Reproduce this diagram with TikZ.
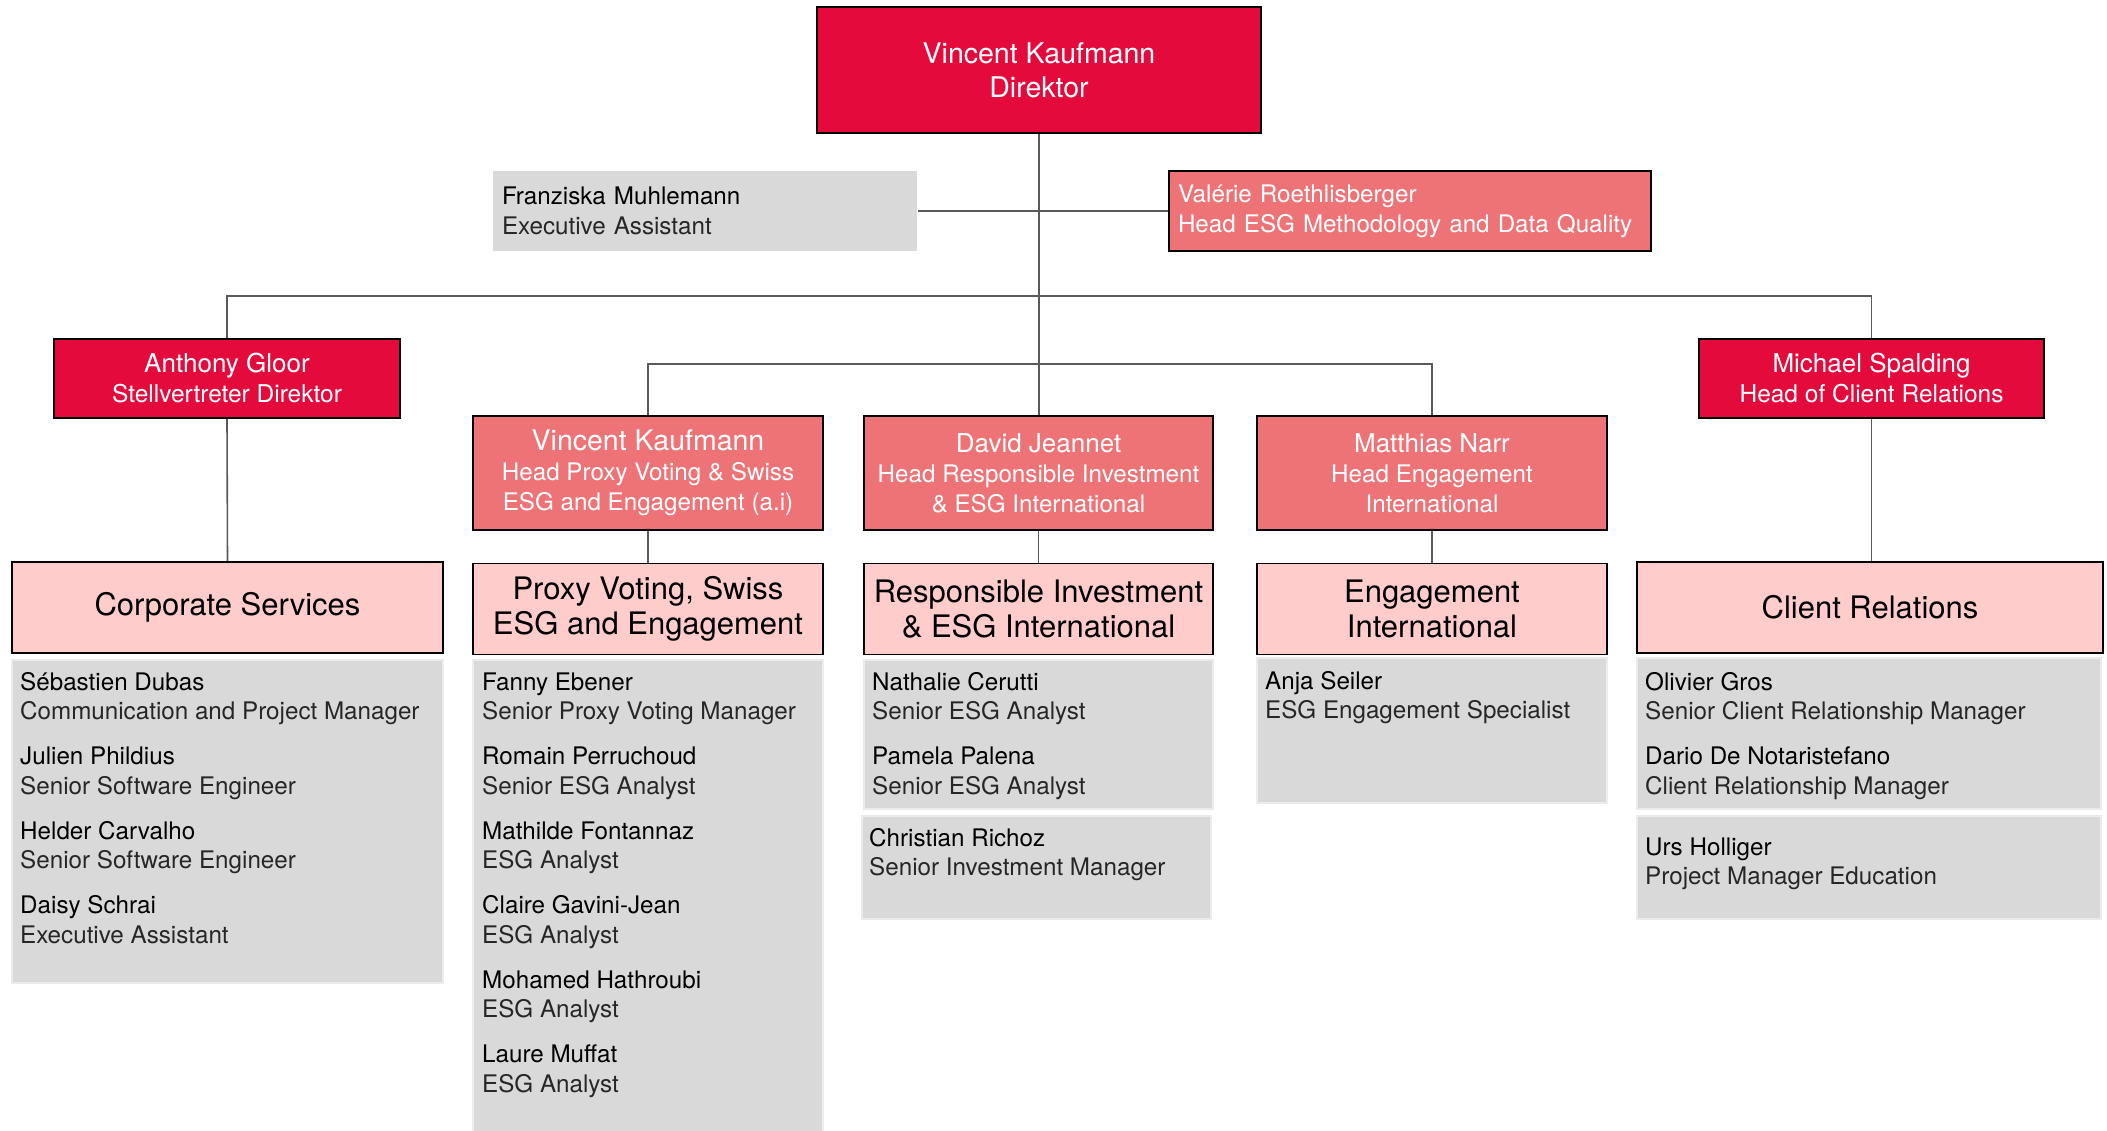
\documentclass[tikz,border=0pt]{standalone}
\usepackage{fontspec}
\setmainfont{TeX Gyre Heros}
\usepackage{tikz}
\usetikzlibrary{calc}
\usetikzlibrary{positioning}
\definecolor{chiefred}{HTML}{E40A3C}
\definecolor{headred}{HTML}{ED7376}
\definecolor{deptpink}{HTML}{FFCCCC}
\definecolor{staffgray}{HTML}{D9D9D9}
\tikzset{link/.style={draw=black!65,line width=1.6pt}}

\begin{document}
\begin{tikzpicture}[x=1pt,y=-1pt]
  % some styles
  \tikzset{
    chief/.style={
      rectangle,
      fill=chiefred,
      draw=black,
      line width=2pt,
      text=white,
      align=center,
      inner sep=0pt,
      font=\fontsize{26}{30}\selectfont
    }
  }
  \tikzset{head/.style={rectangle,fill=headred,draw=black,line width=2pt,text=white,align=center,inner sep=0pt,font=\fontsize{24.2}{30}\selectfont}}
  \tikzset{dept/.style={rectangle,fill=deptpink,draw=black,line width=1.8pt,align=center,inner sep=0pt,font=\fontsize{31}{35.5}\selectfont}}
  \tikzset{staffbox/.style={rectangle,fill=staffgray,draw=black!8,line width=1.5pt,inner sep=0pt}}
  \tikzset{staffname/.style={anchor=base west,inner sep=0pt,font=\fontsize{24.2}{28}\selectfont}}
  \tikzset{staffrole/.style={anchor=base west,inner sep=0pt,text=black!85,font=\fontsize{24.2}{28}\selectfont}}

\useasboundingbox (0,0) rectangle (2107,1131);

% direction
\node[chief, minimum width=444, minimum height=126, font=\fontsize{28.5}{34}\selectfont] (dir) at (1039,70) {Vincent Kaufmann\\Direktor};
\node[staffbox, draw=none, minimum width=424, minimum height=80, align=left, text width=406, font=\fontsize{24.2}{30}\selectfont] (fm) at (705,211) {Franziska Muhlemann\\{\color{black!85}Executive Assistant}};
\node[head, minimum width=482, minimum height=80, align=left, text width=464] (vr) at (1410,211) {Valérie Roethlisberger\\Head ESG Methodology and Data Quality};

% heads
\node[chief, minimum width=346, minimum height=79] (ag) at (227,378.5) {Anthony Gloor\\{\fontsize{24.5}{30}\selectfont Stellvertreter Direktor}};
\node[chief, minimum width=345, minimum height=79] (ms) at (1871.5,378.5) {Michael Spalding\\{\fontsize{24.5}{30}\selectfont Head of Client Relations}};
\node[head, minimum width=350, minimum height=114] (vk) at (648,473) {{\fontsize{28.5}{31}\selectfont Vincent Kaufmann}\\Head Proxy Voting \& Swiss\\ESG and Engagement (a.i)};
\node[head, minimum width=349, minimum height=114] (dj) at (1038.5,473) {{\fontsize{26}{30}\selectfont David Jeannet}\\Head Responsible Investment\\\& ESG International};
\node[head, minimum width=350, minimum height=114] (mn) at (1432,473) {{\fontsize{26}{30}\selectfont Matthias Narr}\\Head Engagement\\International};

% departments
\node[dept, minimum width=431, minimum height=91] (cs) at (227.5,607.5) {Corporate Services};
\node[dept, minimum width=350, minimum height=91] (pv) at (648,609) {Proxy Voting, Swiss\\ESG and Engagement};
\node[dept, minimum width=349, minimum height=91] (ri) at (1038.5,609) {Responsible Investment\\\& ESG International};
\node[dept, minimum width=350, minimum height=91] (ei) at (1432,609) {Engagement\\International};
\node[dept, minimum width=466, minimum height=91] (cr) at (1870,607.5) {Client Relations};

% staff boxes
\node[staffbox, minimum width=431, minimum height=323] (csl) at (227.5,821.5) {};
\node[staffbox, minimum width=350, minimum height=474] (pvl) at (648,897) {};
\node[staffbox, minimum width=349, minimum height=149] (ril) at (1038.5,734.5) {};
\node[staffbox, minimum width=349, minimum height=103] (rix) at (1036.5,867.5) {};
\node[staffbox, minimum width=350, minimum height=145] (eil) at (1432,730.5) {};
\node[staffbox, minimum width=464, minimum height=151] (crl) at (1869,733.5) {};
\node[staffbox, minimum width=464, minimum height=103] (crx) at (1869,867.5) {};

\foreach \nm/\rl [count=\k from 0] in {Sébastien Dubas/Communication and Project Manager,Julien Phildius/Senior Software Engineer,Helder Carvalho/Senior Software Engineer,Daisy Schrai/Executive Assistant} {
  \node[staffname] (csn\k) at (20,690+74.5*\k) {\nm};
  \node[staffrole] (csr\k) at (20,719.6+74.5*\k) {\rl};
}
\foreach \nm/\rl [count=\k from 0] in {Fanny Ebener/Senior Proxy Voting Manager,Romain Perruchoud/Senior ESG Analyst,Mathilde Fontannaz/ESG Analyst,Claire Gavini-Jean/ESG Analyst,Mohamed Hathroubi/ESG Analyst,Laure Muffat/ESG Analyst} {
  \node[staffname] (pvn\k) at (482,690+74.5*\k) {\nm};
  \node[staffrole] (pvr\k) at (482,719.6+74.5*\k) {\rl};
}
\foreach \nm/\rl [count=\k from 0] in {Nathalie Cerutti/Senior ESG Analyst,Pamela Palena/Senior ESG Analyst} {
  \node[staffname] (rin\k) at (872,690+74.5*\k) {\nm};
  \node[staffrole] (rir\k) at (872,719.6+74.5*\k) {\rl};
}
\node[staffname] (rixn) at (869,846) {Christian Richoz};
\node[staffrole] (rixr) at (869,875.5) {Senior Investment Manager};
\node[staffname] (ein) at (1265,689) {Anja Seiler};
\node[staffrole] (eir) at (1265,718.5) {ESG Engagement Specialist};
\foreach \nm/\rl [count=\k from 0] in {Olivier Gros/Senior Client Relationship Manager,Dario De Notaristefano/Client Relationship Manager} {
  \node[staffname] (crn\k) at (1645,690+74.5*\k) {\nm};
  \node[staffrole] (crr\k) at (1645,719.6+74.5*\k) {\rl};
}
\node[staffname] (crxn) at (1645,855) {Urs Holliger};
\node[staffrole] (crxr) at (1645,884.5) {Project Manager Education};

% connectors
\coordinate (bar1) at (1039,296);
\coordinate (bar2) at (1039,364);
\draw[link] (dir.south) -- (dir.south |- dj.north);
\draw[link] (fm.east) -- (vr.west);
\draw[link] (ag.north) |- (bar1) -| (ms.north);
\draw[link] (vk.north) |- (bar2) -| (mn.north);
\draw[link] (ag.south) -- (cs.north);
\draw[link] (ms.south) -- (ms.south |- cr.north);
\draw[link] (vk.south) -- (pv.north);
\draw[link] (dj.south) -- (ri.north);
\draw[link] (mn.south) -- (ei.north);

\end{tikzpicture}
\end{document}
